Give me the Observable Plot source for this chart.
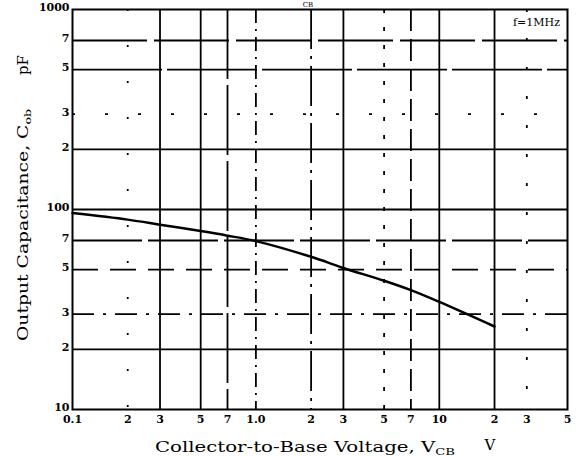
<!DOCTYPE html>
<html>
<head>
<meta charset="utf-8">
<script src="https://cdn.jsdelivr.net/npm/d3@7"></script>
<script src="https://cdn.jsdelivr.net/npm/@observablehq/plot@0.6"></script>
<style>
  html, body { margin: 0; padding: 0; background: white; }
  #chart { width: 579px; height: 456px; }
</style>
</head>
<body>
<div id="chart"></div>
<script>
// Data (Cob vs VCB, f = 1 MHz)
const vcb = [0.1, 0.2, 0.3, 0.5, 0.7, 1, 2, 3, 5, 7, 10, 20];
const cob = [96, 89, 84, 78, 74, 69.5, 58, 51, 44, 39.5, 34.5, 26];

// Axis ticks and labels
const xTicks = [0.1, 0.2, 0.3, 0.5, 0.7, 1, 2, 3, 5, 7, 10, 20, 30, 50];
const xTickLabels = ["0.1", "2", "3", "5", "7", "1.0", "2", "3", "5", "7", "10", "2", "3", "5"];
const yTicks = [10, 20, 30, 50, 70, 100, 200, 300, 500, 700, 1000];
const yTickLabels = ["10", "2", "3", "5", "7", "100", "2", "3", "5", "7", "1000"];

// Grid lines
const xGrid = [0.2, 0.3, 0.5, 0.7, 1, 2, 3, 5, 7, 10, 20, 30];
const yGrid = [20, 30, 50, 70, 100, 200, 300, 500, 700];

// Styles (scan-like broken grid lines)
const xDash = new Map([[0.2, "2,34"], [0.7, "70,6"], [1, "14,6,2,6"], [2, "40,7,3,7"],
                       [5, "4,14"], [7, "22,8"], [30, "3,26"]]);
const yDash = new Map([[30, "22,9,3,9"], [50, "26,12"], [70, "70,6"], [300, "3,30"],
                       [500, "90,5"], [700, "75,7"]]);

const data = vcb.map((v, i) => ({v, c: cob[i]}));
const xTickData = xTicks.map((t, i) => ({t, label: xTickLabels[i]}));
const yTickData = yTicks.map((t, i) => ({t, label: yTickLabels[i]}));

const svg = Plot.plot({
  width: 579,
  height: 456,
  marginLeft: 72,
  marginRight: 12,
  marginTop: 9,
  marginBottom: 47,
  style: {fontFamily: "DejaVu Serif", fontSize: "11px", background: "white", color: "black"},
  x: {type: "log", domain: [0.1, 50], axis: null},
  y: {type: "log", domain: [10, 1000], axis: null},
  marks: [
    ...xGrid.map(g => Plot.ruleX([g], {stroke: "black", strokeWidth: 1.8, strokeDasharray: xDash.get(g)})),
    ...yGrid.map(g => Plot.ruleY([g], {stroke: "black", strokeWidth: 1.8, strokeDasharray: yDash.get(g)})),
    Plot.frame({stroke: "black", strokeWidth: 2}),
    Plot.line(data, {x: "v", y: "c", stroke: "black", strokeWidth: 2.5, curve: "catmull-rom"}),
    Plot.text(xTickData, {x: "t", text: "label", frameAnchor: "bottom", dy: 13,
                          fontWeight: "bold", fill: "black"}),
    Plot.text(yTickData, {y: "t", text: "label", frameAnchor: "left", dx: -3, dy: -2,
                          textAnchor: "end", fontWeight: "bold", fill: "black"})
  ]
});
document.getElementById("chart").appendChild(svg);

// Axis titles and annotations
const s = d3.select(svg);
const g = s.append("g").attr("font-family", "DejaVu Serif").attr("fill", "black");

const yl = g.append("text")
  .attr("transform", "translate(28,225) rotate(-90)")
  .attr("text-anchor", "middle")
  .attr("font-size", 15)
  .attr("textLength", 232)
  .attr("lengthAdjust", "spacingAndGlyphs");
yl.append("tspan").text("Output Capacitance, C");
yl.append("tspan").attr("font-size", 10).attr("dy", 3).text("ob");

g.append("text")
  .attr("transform", "translate(28,65) rotate(-90)")
  .attr("text-anchor", "middle")
  .attr("font-size", 15)
  .text("pF");

const xl = g.append("text")
  .attr("x", 155).attr("y", 452)
  .attr("text-anchor", "start")
  .attr("font-size", 15)
  .attr("textLength", 300)
  .attr("lengthAdjust", "spacingAndGlyphs");
xl.append("tspan").text("Collector-to-Base Voltage, V");
xl.append("tspan").attr("font-size", 10).attr("dy", 3).text("CB");

g.append("text")
  .attr("x", 490).attr("y", 450)
  .attr("text-anchor", "middle")
  .attr("font-size", 15)
  .text("V");

g.append("text")
  .attr("x", 560).attr("y", 26)
  .attr("text-anchor", "end")
  .attr("font-size", 11)
  .text("f=1MHz");

g.append("text")
  .attr("x", 308).attr("y", 7)
  .attr("text-anchor", "middle")
  .attr("font-size", 7)
  .text("CB");
</script>
</body>
</html>
